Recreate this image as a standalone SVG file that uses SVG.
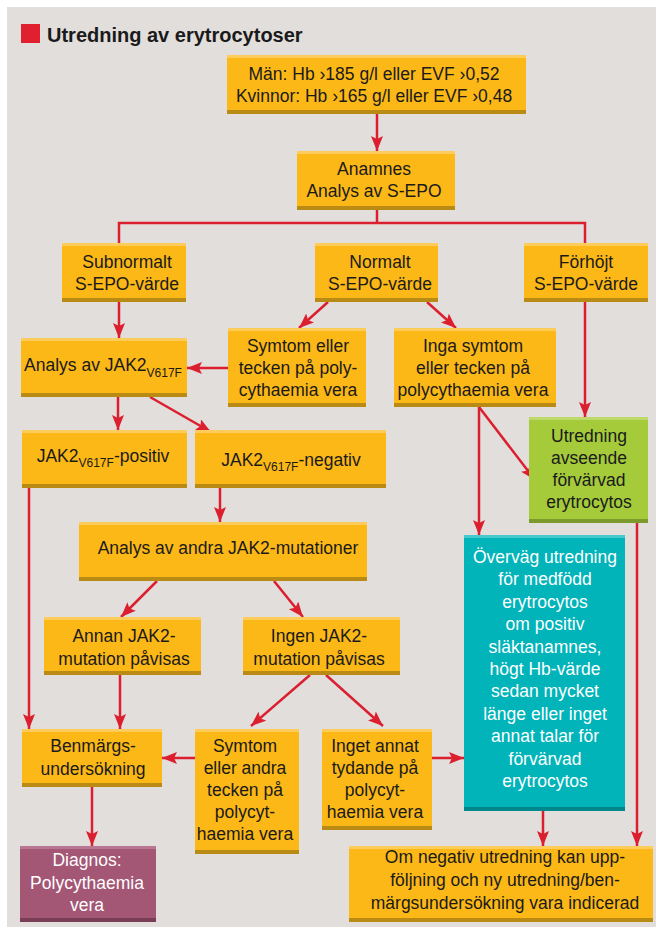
<svg xmlns="http://www.w3.org/2000/svg" width="656" height="927" viewBox="0 0 656 927">
<defs>
<style>
.bg{fill:#e2dedc}
.o{fill:#fcb816}.ot{fill:#fdcc5a}.ob{fill:#b98a14}
.g{fill:#a5cb3a}.gt{fill:#bcd96a}.gb{fill:#7c9a2c}
.t{fill:#00b4b9}.tt{fill:#45c9cd}.tb{fill:#00878b}
.p{fill:#a45675}.pt{fill:#b97692}.pb{fill:#7a3d56}
text{font-family:"Liberation Sans",Arial,sans-serif;font-size:17.5px;fill:#1a1a1a;text-anchor:middle}
text.w{fill:#ffffff}
.title{font-size:20px;font-weight:bold;text-anchor:start}
.c path,.c line{stroke:#dc1f2f;stroke-width:2.5;fill:none}
</style>
<marker id="ah" markerUnits="userSpaceOnUse" markerWidth="16" markerHeight="12" refX="15" refY="6" orient="auto">
<path d="M0,0 L15,6 L0,12 L3,6 z" fill="#dc1f2f"/>
</marker>
</defs>
<rect x="0" y="0" width="656" height="927" fill="#ffffff"/>
<rect class="bg" x="7" y="7" width="649" height="920"/>
<g id="title">
<rect x="21" y="24" width="19" height="19" fill="#e0202f"/>
<text class="title" x="47" y="42">Utredning av erytrocytoser</text>
</g>

<g class="c" id="connectors">
<line x1="377" y1="114" x2="377" y2="151" marker-end="url(#ah)"/>
<path d="M377,210 V223 M119,243 V223 H585 V243"/>
<line x1="119" y1="302" x2="119" y2="338" marker-end="url(#ah)"/>
<line x1="328" y1="302" x2="299" y2="328" marker-end="url(#ah)"/>
<line x1="427" y1="302" x2="456" y2="328" marker-end="url(#ah)"/>
<line x1="228" y1="368" x2="187" y2="368" marker-end="url(#ah)"/>
<line x1="585" y1="302" x2="585" y2="417" marker-end="url(#ah)"/>
<line x1="118" y1="397" x2="118" y2="430" marker-end="url(#ah)"/>
<line x1="150" y1="397" x2="211" y2="432" marker-end="url(#ah)"/>
<line x1="479" y1="407" x2="535" y2="480" marker-end="url(#ah)"/>
<line x1="479" y1="407" x2="479" y2="535" marker-end="url(#ah)"/>
<line x1="220" y1="488" x2="220" y2="522" marker-end="url(#ah)"/>
<line x1="637" y1="523" x2="637" y2="846" marker-end="url(#ah)"/>
<line x1="157" y1="581" x2="121" y2="617" marker-end="url(#ah)"/>
<line x1="274" y1="581" x2="303" y2="617" marker-end="url(#ah)"/>
<line x1="29" y1="488" x2="29" y2="729" marker-end="url(#ah)"/>
<line x1="120" y1="675" x2="120" y2="729" marker-end="url(#ah)"/>
<line x1="310" y1="675" x2="251" y2="726" marker-end="url(#ah)"/>
<line x1="326" y1="675" x2="383" y2="726" marker-end="url(#ah)"/>
<line x1="195" y1="758" x2="162" y2="758" marker-end="url(#ah)"/>
<line x1="432" y1="758" x2="464" y2="758" marker-end="url(#ah)"/>
<line x1="92" y1="787" x2="92" y2="846" marker-end="url(#ah)"/>
<line x1="543" y1="811" x2="543" y2="846" marker-end="url(#ah)"/>
</g>

<g id="n-criteria">
<rect class="o" x="227" y="55" width="299" height="59"/><rect class="ot" x="227" y="55" width="299" height="3"/><rect class="ob" x="227" y="110" width="299" height="4"/>
<text x="374" y="80">Män: Hb ›185 g/l eller EVF ›0,52</text>
<text x="374" y="102">Kvinnor: Hb ›165 g/l eller EVF ›0,48</text>
</g>
<g id="n-anamnes">
<rect class="o" x="297" y="151" width="158" height="59"/><rect class="ot" x="297" y="151" width="158" height="3"/><rect class="ob" x="297" y="206" width="158" height="4"/>
<text x="374" y="175">Anamnes</text>
<text x="374" y="197">Analys av S-EPO</text>
</g>
<g id="n-subnormalt">
<rect class="o" x="62" y="243" width="124" height="59"/><rect class="ot" x="62" y="243" width="124" height="3"/><rect class="ob" x="62" y="298" width="124" height="4"/>
<text x="127" y="268">Subnormalt</text>
<text x="127" y="290">S-EPO-värde</text>
</g>
<g id="n-normalt">
<rect class="o" x="315" y="243" width="123" height="59"/><rect class="ot" x="315" y="243" width="123" height="3"/><rect class="ob" x="315" y="298" width="123" height="4"/>
<text x="380" y="268">Normalt</text>
<text x="380" y="290">S-EPO-värde</text>
</g>
<g id="n-forhojt">
<rect class="o" x="524" y="243" width="124" height="59"/><rect class="ot" x="524" y="243" width="124" height="3"/><rect class="ob" x="524" y="298" width="124" height="4"/>
<text x="586" y="268">Förhöjt</text>
<text x="586" y="290">S-EPO-värde</text>
</g>
<g id="n-analys-jak2">
<rect class="o" x="21" y="338" width="166" height="59"/><rect class="ot" x="21" y="338" width="166" height="3"/><rect class="ob" x="21" y="393" width="166" height="4"/>
<text x="103" y="371">Analys av JAK2<tspan font-size="12" dy="6">V617F</tspan></text>
</g>
<g id="n-symtom1">
<rect class="o" x="228" y="328" width="138" height="79"/><rect class="ot" x="228" y="328" width="138" height="3"/><rect class="ob" x="228" y="403" width="138" height="4"/>
<text x="298" y="352">Symtom eller</text>
<text x="298" y="374">tecken på poly-</text>
<text x="298" y="396">cythaemia vera</text>
</g>
<g id="n-inga">
<rect class="o" x="394" y="328" width="162" height="79"/><rect class="ot" x="394" y="328" width="162" height="3"/><rect class="ob" x="394" y="403" width="162" height="4"/>
<text x="473" y="352">Inga symtom</text>
<text x="473" y="374">eller tecken på</text>
<text x="473" y="396">polycythaemia vera</text>
</g>
<g id="n-positiv">
<rect class="o" x="22" y="430" width="165" height="58"/><rect class="ot" x="22" y="430" width="165" height="3"/><rect class="ob" x="22" y="484" width="165" height="4"/>
<text x="103" y="462">JAK2<tspan font-size="12" dy="5">V617F</tspan><tspan dy="-5">-positiv</tspan></text>
</g>
<g id="n-negativ">
<rect class="o" x="195" y="430" width="191" height="58"/><rect class="ot" x="195" y="430" width="191" height="3"/><rect class="ob" x="195" y="484" width="191" height="4"/>
<text x="291" y="466">JAK2<tspan font-size="12" dy="5">V617F</tspan><tspan dy="-5">-negativ</tspan></text>
</g>
<g id="n-utredning-forvarvad">
<rect class="g" x="529" y="417" width="119" height="106"/><rect class="gt" x="529" y="417" width="119" height="3"/><rect class="gb" x="529" y="519" width="119" height="4"/>
<text x="589" y="442">Utredning</text>
<text x="589" y="464">avseende</text>
<text x="589" y="486">förvärvad</text>
<text x="589" y="508">erytrocytos</text>
</g>
<g id="n-andra">
<rect class="o" x="79" y="522" width="288" height="59"/><rect class="ot" x="79" y="522" width="288" height="3"/><rect class="ob" x="79" y="577" width="288" height="4"/>
<text x="228" y="554">Analys av andra JAK2-mutationer</text>
</g>
<g id="n-overvag">
<rect class="t" x="464" y="535" width="161" height="276"/><rect class="tt" x="464" y="535" width="161" height="3"/><rect class="tb" x="464" y="807" width="161" height="4"/>
<text class="w" x="545" y="563">Överväg utredning</text>
<text class="w" x="545" y="585">för medfödd</text>
<text class="w" x="545" y="608">erytrocytos</text>
<text class="w" x="545" y="630">om positiv</text>
<text class="w" x="545" y="653">släktanamnes,</text>
<text class="w" x="545" y="675">högt Hb-värde</text>
<text class="w" x="545" y="697">sedan mycket</text>
<text class="w" x="545" y="720">länge eller inget</text>
<text class="w" x="545" y="742">annat talar för</text>
<text class="w" x="545" y="765">förvärvad</text>
<text class="w" x="545" y="787">erytrocytos</text>
</g>
<g id="n-annan">
<rect class="o" x="44" y="617" width="157" height="58"/><rect class="ot" x="44" y="617" width="157" height="3"/><rect class="ob" x="44" y="671" width="157" height="4"/>
<text x="124" y="642">Annan JAK2-</text>
<text x="124" y="665">mutation påvisas</text>
</g>
<g id="n-ingen">
<rect class="o" x="243" y="617" width="157" height="58"/><rect class="ot" x="243" y="617" width="157" height="3"/><rect class="ob" x="243" y="671" width="157" height="4"/>
<text x="319" y="642">Ingen JAK2-</text>
<text x="319" y="665">mutation påvisas</text>
</g>
<g id="n-benmargs">
<rect class="o" x="22" y="729" width="140" height="58"/><rect class="ot" x="22" y="729" width="140" height="3"/><rect class="ob" x="22" y="783" width="140" height="4"/>
<text x="93" y="752">Benmärgs-</text>
<text x="93" y="775">undersökning</text>
</g>
<g id="n-symtom2">
<rect class="o" x="195" y="729" width="104" height="125"/><rect class="ot" x="195" y="729" width="104" height="3"/><rect class="ob" x="195" y="850" width="104" height="4"/>
<text x="245" y="752">Symtom</text>
<text x="245" y="774">eller andra</text>
<text x="245" y="796">tecken på</text>
<text x="245" y="818">polycyt-</text>
<text x="245" y="840">haemia vera</text>
</g>
<g id="n-inget">
<rect class="o" x="322" y="729" width="110" height="101"/><rect class="ot" x="322" y="729" width="110" height="3"/><rect class="ob" x="322" y="826" width="110" height="4"/>
<text x="375" y="752">Inget annat</text>
<text x="375" y="774">tydande på</text>
<text x="375" y="796">polycyt-</text>
<text x="375" y="818">haemia vera</text>
</g>
<g id="n-diagnos">
<rect class="p" x="20" y="846" width="136" height="76"/><rect class="pt" x="20" y="846" width="136" height="3"/><rect class="pb" x="20" y="918" width="136" height="4"/>
<text class="w" x="87" y="866">Diagnos:</text>
<text class="w" x="87" y="889">Polycythaemia</text>
<text class="w" x="87" y="911">vera</text>
</g>
<g id="n-negativ-utredning">
<rect class="o" x="349" y="846" width="304" height="76"/><rect class="ot" x="349" y="846" width="304" height="3"/><rect class="ob" x="349" y="918" width="304" height="4"/>
<text x="505" y="863">Om negativ utredning kan upp-</text>
<text x="505" y="886">följning och ny utredning/ben-</text>
<text x="505" y="909">märgsundersökning vara indicerad</text>
</g>
</svg>
